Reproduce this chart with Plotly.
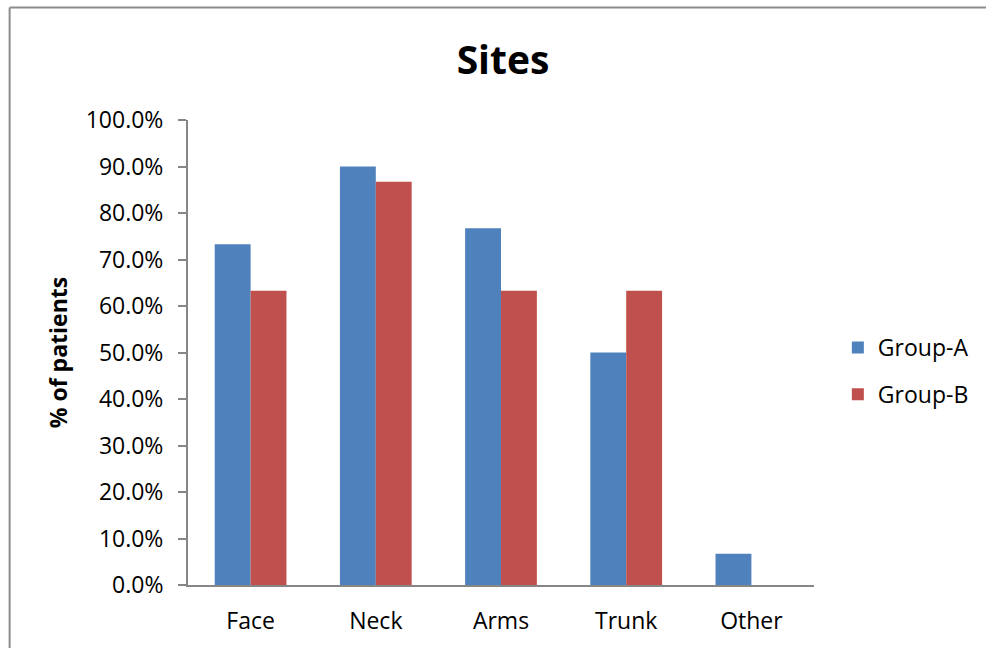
import plotly.graph_objects as go

categories = ["Face", "Neck", "Arms", "Trunk", "Other"]
group_a = [0.733, 0.900, 0.767, 0.500, 0.067]
group_b = [0.633, 0.867, 0.633, 0.633, 0.0]
series_names = ["Group-A", "Group-B"]
y_ticks = [i / 10 for i in range(11)]

BLUE = "#4F81BD"
RED = "#C0504D"
GRAY = "#868686"
FONT = "Open Sans"

W, H = 986, 648
L, R, T, B = 188, 168, 120, 63
pw, ph = W - L - R, H - T - B

def px_x(p):
    return (p - L) / pw

def px_y(p):
    return (H - B - p) / ph

fig = go.Figure()
fig.add_trace(go.Bar(x=categories, y=group_a, name=series_names[0],
                     marker=dict(color=BLUE, line=dict(width=0)), legendgroup="a"))
fig.add_trace(go.Bar(x=categories, y=group_b, name=series_names[1],
                     marker=dict(color=RED, line=dict(width=0)), legendgroup="b"))

fig.update_layout(
    width=W, height=H,
    margin=dict(l=L, r=R, t=T, b=B, pad=0),
    paper_bgcolor="white", plot_bgcolor="white",
    barmode="group", bargap=0.427, bargroupgap=0,
    font=dict(family=FONT, size=23, color="#000000"),
    title=dict(text="<b>Sites</b>", x=(L + pw / 2) / W, xref="container", xanchor="center",
               y=1 - 60 / H, yref="container", yanchor="middle",
               font=dict(family=FONT, size=39, color="#000000")),
    showlegend=True,
    legend=dict(x=px_x(842), xanchor="left", y=px_y(371), yanchor="middle",
                traceorder="grouped", tracegroupgap=14,
                font=dict(family=FONT, size=23, color="#000000"),
                bgcolor="rgba(0,0,0,0)"),
    xaxis=dict(showline=True, linecolor=GRAY, linewidth=2, ticks="",
               showgrid=False, zeroline=False,
               tickfont=dict(family=FONT, size=23, color="#000000"),
               ticklabelstandoff=14),
    yaxis=dict(range=[0, 1], tickvals=y_ticks, tickformat=".1%",
               showline=True, linecolor=GRAY, linewidth=2,
               ticks="outside", ticklen=8, tickcolor=GRAY, tickwidth=2,
               showgrid=False, zeroline=False,
               tickfont=dict(family=FONT, size=23, color="#000000"),
               ticklabelstandoff=10,
               title=dict(text="<b>% of patients</b>", standoff=12,
                          font=dict(family=FONT, size=23, color="#000000"))),
    shapes=[
        dict(type="line", xref="paper", yref="paper",
             x0=px_x(8.5), x1=px_x(8.5), y0=px_y(7.5), y1=px_y(660),
             line=dict(color="#8C8C8C", width=2)),
        dict(type="line", xref="paper", yref="paper",
             x0=px_x(8.5), x1=px_x(1000), y0=px_y(7.5), y1=px_y(7.5),
             line=dict(color="#8C8C8C", width=2)),
    ],
)

fig.write_html("out.html")
